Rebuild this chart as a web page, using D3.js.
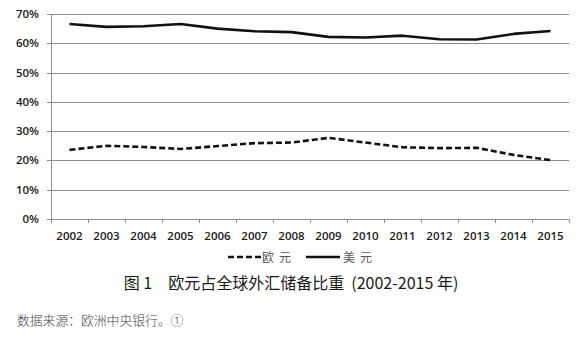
<!DOCTYPE html>
<html>
<head>
<meta charset="utf-8">
<script src="https://cdn.jsdelivr.net/npm/d3@7"></script>
<style>
  html, body { margin: 0; padding: 0; background: #fff; }
  svg { display: block; }
</style>
</head>
<body>
<svg id="chart" width="586" height="343"></svg>
<script>
// Share of global FX reserves (%), 2002-2015
const years = ["2002","2003","2004","2005","2006","2007","2008","2009","2010","2011","2012","2013","2014","2015"];
const euroShare = [23.6, 25.0, 24.6, 23.9, 24.9, 25.9, 26.1, 27.7, 26.1, 24.5, 24.2, 24.3, 21.9, 20.1];
const usdShare  = [66.6, 65.6, 65.8, 66.6, 65.0, 64.1, 63.8, 62.2, 62.0, 62.6, 61.4, 61.3, 63.2, 64.2];
const yTicks = [0, 10, 20, 30, 40, 50, 60, 70];
const seriesNames = ["欧元", "美元"];

const svg = d3.select("#chart");
const plot = { left: 51, right: 569, top: 14, bottom: 219 };

const x = d3.scaleBand().domain(years).range([plot.left, plot.right]);
const y = d3.scaleLinear().domain([0, 70]).range([plot.bottom, plot.top]);
const cx = d => x(d) + x.bandwidth() / 2;

// horizontal grid lines with short left ticks
svg.append("g").selectAll("line").data(yTicks).join("line")
  .attr("x1", plot.left - 4).attr("x2", plot.right)
  .attr("y1", d => Math.round(y(d)) + 0.5).attr("y2", d => Math.round(y(d)) + 0.5)
  .attr("stroke", "#8f8f8f").attr("stroke-width", 1);

// y axis line
svg.append("line")
  .attr("x1", plot.left + 0.5).attr("x2", plot.left + 0.5)
  .attr("y1", plot.top).attr("y2", plot.bottom + 4)
  .attr("stroke", "#8f8f8f");

// category boundary ticks below the x axis
const bounds = years.map(d => x(d)).concat([plot.right]);
svg.append("g").selectAll("line").data(bounds).join("line")
  .attr("x1", d => Math.round(d) + 0.5).attr("x2", d => Math.round(d) + 0.5)
  .attr("y1", plot.bottom).attr("y2", plot.bottom + 4)
  .attr("stroke", "#8f8f8f");

// y tick labels
svg.append("g").selectAll("text").data(yTicks).join("text")
  .attr("x", 39).attr("y", d => y(d) + 4)
  .attr("text-anchor", "end")
  .attr("font-family", "'Open Sans', sans-serif")
  .attr("font-size", "11.5px").attr("font-weight", 600)
  .attr("fill", "#1a1a1a")
  .text(d => d + "%");

// x tick labels
svg.append("g").selectAll("text").data(years).join("text")
  .attr("x", d => cx(d)).attr("y", 240)
  .attr("text-anchor", "middle")
  .attr("font-family", "'Open Sans', sans-serif")
  .attr("font-size", "11.5px").attr("font-weight", 600)
  .attr("fill", "#1a1a1a")
  .text(d => d);

const line = d3.line().x((v, i) => cx(years[i])).y(v => y(v)).curve(d3.curveLinear);

svg.append("path").datum(usdShare)
  .attr("d", line).attr("fill", "none")
  .attr("stroke", "#111").attr("stroke-width", 2.6)
  .attr("stroke-linejoin", "round");

svg.append("path").datum(euroShare)
  .attr("d", line).attr("fill", "none")
  .attr("stroke", "#111").attr("stroke-width", 2.6)
  .attr("stroke-dasharray", "6,3");

// legend
const lg = svg.append("g").attr("font-family", "'Noto Sans CJK SC', sans-serif")
  .attr("font-size", "12px").attr("fill", "#555");
lg.append("line").attr("x1", 228).attr("x2", 261).attr("y1", 257).attr("y2", 257)
  .attr("stroke", "#111").attr("stroke-width", 2.6).attr("stroke-dasharray", "6,3");
lg.append("text").attr("x", 262).attr("y", 261.5).attr("letter-spacing", "5px").text(seriesNames[0]);
lg.append("line").attr("x1", 306).attr("x2", 340).attr("y1", 257).attr("y2", 257)
  .attr("stroke", "#111").attr("stroke-width", 2.6);
lg.append("text").attr("x", 343).attr("y", 261.5).attr("letter-spacing", "5px").text(seriesNames[1]);

// figure caption
svg.append("text")
  .attr("x", 291).attr("y", 289)
  .attr("text-anchor", "middle")
  .attr("font-family", "'Noto Sans CJK SC', sans-serif")
  .attr("font-size", "16px").attr("fill", "#1a1a1a")
  .style("white-space", "pre")
  .text("图 1　欧元占全球外汇储备比重  (2002-2015 年)");

// source note
svg.append("text")
  .attr("x", 17).attr("y", 325)
  .attr("font-family", "'Noto Sans CJK SC', sans-serif")
  .attr("font-size", "12.8px").attr("font-weight", 300).attr("fill", "#444")
  .text("数据来源：欧洲中央银行。①");
</script>
</body>
</html>
